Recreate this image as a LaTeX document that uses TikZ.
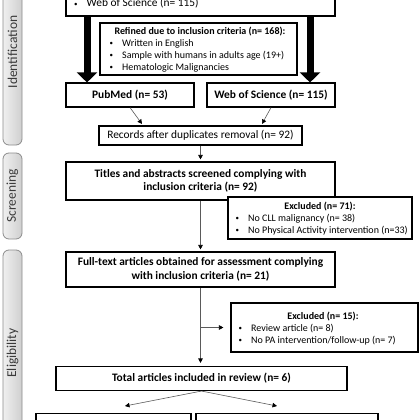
\documentclass[tikz,border=0pt]{standalone}
\usepackage{fontspec}
\setmainfont{Carlito}
\usetikzlibrary{arrows.meta,calc}
\definecolor{linegray}{HTML}{5A5A5A}
\definecolor{sideedge}{HTML}{8C8C8C}
\definecolor{sidetxt}{HTML}{3A3A3A}
\newcommand{\blist}[1]{\begin{tabular}[t]{@{}p{12.5pt}@{}l@{}}#1\end{tabular}}
\newcommand{\sbul}{\raisebox{0.6pt}{\fontsize{7}{7}\selectfont\textbullet}}
\begin{document}
\begin{tikzpicture}[x=1pt,y=-1pt,
  box/.style={draw=black,line width=1.1pt,fill=white,inner sep=0pt,align=center},
  bigtxt/.style={font=\fontsize{11.4}{13.5}\selectfont},
  bigbold/.style={font=\fontsize{11.4}{13.5}\selectfont\bfseries},
  smalltxt/.style={inner sep=0pt,anchor=base west,font=\fontsize{10}{11.8}\selectfont},
  smalltitle/.style={inner sep=0pt,anchor=base,font=\fontsize{10}{11.8}\selectfont\bfseries},
  side/.style={draw=sideedge,line width=0.8pt,rounded corners=6pt,left color=gray!12,right color=gray!38,inner sep=0pt},
  sidetext/.style={rotate=90,text=sidetxt,font=\fontsize{13.5}{15}\selectfont,inner sep=0pt},
  fat/.style={line width=7pt,draw=black,-{Triangle[width=20pt,length=10pt]}},
  conn/.style={draw=linegray,line width=0.6pt,-{Triangle[width=4.5pt,length=4.5pt,color=black]}}
]
\useasboundingbox (0,0) rectangle (420,420);
\clip (0,0) rectangle (420,420);

% side labels
\node[side,minimum width=19pt,minimum height=190pt] (identS) at (12.5,50) {};
\node[sidetext] (identT) at (12.5,52) {Identification};
\node[side,minimum width=19pt,minimum height=86pt] (screenS) at (12.5,196) {};
\node[sidetext] (screenT) at (12.5,196) {Screening};
\node[side,minimum width=19pt,minimum height=210pt] (eligS) at (12.5,355) {};
\node[sidetext] (eligT) at (12.5,353) {Eligibility};

% top box
\node[box,minimum width=269pt,minimum height=40pt] (top) at (200.5,-4) {};
\node[smalltxt,font=\fontsize{11.4}{13.5}\selectfont] (topL) at (74,7) {\blist{\sbul & Web of Science (n= 115)}};

% refined box
\node[box,minimum width=197pt,minimum height=52pt] (ref) at (198.5,49) {};
\node[smalltitle] (refT) at (200,35) {Refined due to inclusion criteria (n= 168):};
\node[smalltxt] (refL) at (109.5,46.5) {\blist{\sbul & Written in English\\ \sbul & Sample with humans in adults age (19+)\\ \sbul & Hematologic Malignancies}};

% databases
\node[box,bigbold,minimum width=128pt,minimum height=24pt] (pub) at (130,95) {PubMed (n= 53)};
\node[box,bigbold,minimum width=128pt,minimum height=24pt] (wos) at (271,95) {Web of Science (n= 115)};

\coordinate (aL) at (87,0);
\coordinate (aR) at (310,0);
\draw[fat] (top.south -| aL) -- (pub.north -| aL);
\draw[fat] (top.south -| aR) -- (wos.north -| aR);

% records
\node[box,bigtxt,minimum width=203pt,minimum height=19pt] (rec) at (200.5,135.5) {Records after duplicates removal (n= 92)};
\coordinate (recL) at (142,124);
\coordinate (recR) at (262,124);
\draw[conn] (pub.south) -- (recL);
\draw[conn] (wos.south) -- (recR);

% titles
\node[box,bigbold,minimum width=269pt,minimum height=38pt] (tit) at (200.5,181) {Titles and abstracts screened complying with\\ inclusion criteria (n= 92)};
\draw[conn,shorten >=2pt] (rec.south) -- (tit.north);

% excluded 71
\node[box,minimum width=184pt,minimum height=42pt] (ex1) at (320,218) {};
\node[smalltitle] (ex1T) at (320,209.5) {Excluded (n= 71):};
\node[smalltxt] (ex1L) at (235.5,221.5) {\blist{\sbul & No CLL malignancy (n= 38)\\ \sbul & No Physical Activity intervention (n=33)}};

% full text
\node[box,bigbold,minimum width=269pt,minimum height=35pt] (ft) at (200.5,269.5) {Full-text articles obtained for assessment complying\\ with inclusion criteria (n= 21)};
\draw[conn,shorten >=2pt] (tit.south) -- (ft.north);

% excluded 15
\node[box,minimum width=187pt,minimum height=49pt] (ex2) at (324.5,327.5) {};
\node[smalltitle] (ex2T) at (323,319.5) {Excluded (n= 15):};
\node[smalltxt] (ex2L) at (238.5,331.5) {\blist{\sbul & Review article (n= 8)\\ \sbul & No PA intervention/follow-up (n= 7)}};

% total
\node[box,bigbold,minimum width=291pt,minimum height=24pt] (tot) at (201.5,378.5) {Total articles included in review (n= 6)};
\draw[conn,shorten >=3pt] (ft.south) -- (ft.south |- tot.north);
\draw[conn,shorten >=7pt] (ft.south |- ex2.west) -- (ex2.west);

% bottom boxes
\node[box,bigbold,minimum width=155pt,minimum height=30pt,anchor=north] (botL) at (113.5,413) {First-Phase Articles (n= 3)};
\node[box,bigbold,minimum width=182pt,minimum height=30pt,anchor=north] (botR) at (287,413) {Second-Phase Articles (n= 3)};
\coordinate (botLa) at (125,406);
\coordinate (botRa) at (277,406);
\draw[conn] (tot.south) -- (botLa);
\draw[conn] (tot.south) -- (botRa);
\end{tikzpicture}
\end{document}
